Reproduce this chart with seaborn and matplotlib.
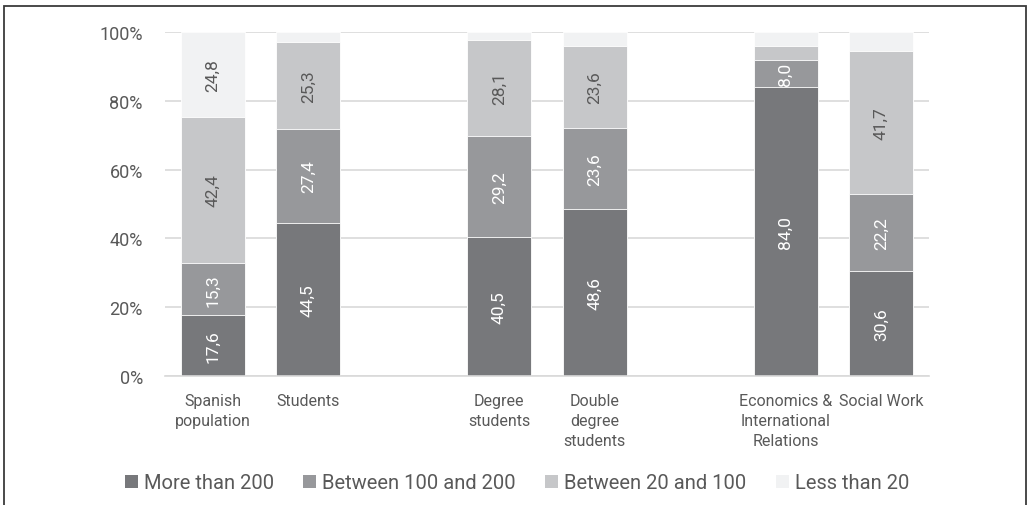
"""
100% stacked bars: share of respondents by size category,
grouped as population / degree type / field of study.
"""

import pandas as pd
import seaborn as sns
import matplotlib.pyplot as plt
from matplotlib.patches import Patch, Rectangle


# ---------------------------
# Data
# ---------------------------

categories = [
    "Spanish population",
    "Students",
    "Degree students",
    "Double degree students",
    "Economics & International Relations",
    "Social Work",
]

tick_labels = [
    "Spanish\npopulation",
    "Students",
    "",
    "Degree\nstudents",
    "Double\ndegree\nstudents",
    "",
    "Economics &\nInternational\nRelations",
    "Social Work",
]

# blank slots separate the three groups
order = [categories[0], categories[1], " ",
         categories[2], categories[3], "  ",
         categories[4], categories[5]]

series_names = ["More than 200", "Between 100 and 200",
                "Between 20 and 100", "Less than 20"]

more_200 = [17.6, 44.5, 40.5, 48.6, 84.0, 30.6]
between_100_200 = [15.3, 27.4, 29.2, 23.6, 8.0, 22.2]
between_20_100 = [42.4, 25.3, 28.1, 23.6, 4.0, 41.7]
less_20 = [24.8, 2.8, 2.2, 4.2, 4.0, 5.5]

series_values = [more_200, between_100_200, between_20_100, less_20]


# ---------------------------
# Style
# ---------------------------

colors = ["#77787b", "#97989b", "#c6c7c9", "#f1f2f3"]
label_colors = ["white", "white", "#595959", "#595959"]
text_color = "#595959"
grid_color = "#d9d9d9"

sns.set_theme(style="white")
plt.rcParams["font.family"] = ["Roboto", "DejaVu Sans"]


# ---------------------------
# Build table (cumulative tops for stacking)
# ---------------------------

df = pd.DataFrame({"category": categories})
running = [0.0] * len(categories)
bottoms = []
for name, vals in zip(series_names, series_values):
    bottoms.append(list(running))
    running = [r + v for r, v in zip(running, vals)]
    df[name] = running


# ---------------------------
# Figure
# ---------------------------

fig = plt.figure(figsize=(10.28, 5.06), dpi=100)
ax = fig.add_axes([0.1605, 0.2549, 0.7432, 0.6799])

# draw tallest cumulative layer first so each lower layer covers it
for name, color in reversed(list(zip(series_names, colors))):
    sns.barplot(
        data=df, x="category", y=name, order=order,
        color=color, saturation=1, width=0.67,
        edgecolor="white", linewidth=0.6, ax=ax, zorder=2,
    )

# value labels
for vals, bots, lc in zip(series_values, bottoms, label_colors):
    for cat, v, b in zip(categories, vals, bots):
        if v < 8:
            continue
        xpos = order.index(cat)
        ax.text(xpos, b + v / 2, f"{v:.1f}".replace(".", ","),
                rotation=90, ha="center", va="center",
                color=lc, fontsize=12.5, zorder=3)


# ---------------------------
# Axes
# ---------------------------

ax.set_xlim(-0.5, 7.5)
ax.set_ylim(0, 100)
ax.set_yticks([0, 20, 40, 60, 80, 100])
ax.set_yticklabels([f"{t}%" for t in [0, 20, 40, 60, 80, 100]])
ax.set_xticks(range(len(order)))
ax.set_xticklabels(tick_labels, va="top", linespacing=1.45)
ax.set_xlabel("")
ax.set_ylabel("")

ax.yaxis.grid(True, color=grid_color, linewidth=1.2, zorder=0)
ax.set_axisbelow(True)

for loc, spine in ax.spines.items():
    if loc == "bottom":
        spine.set_color(grid_color)
        spine.set_linewidth(1.2)
    else:
        spine.set_visible(False)

ax.tick_params(axis="y", length=0, pad=16, labelsize=13, labelcolor=text_color)
ax.tick_params(axis="x", length=0, pad=12, labelsize=11.5, labelcolor=text_color)


# ---------------------------
# Legend
# ---------------------------

handles = [Patch(facecolor=c, edgecolor="none") for c in colors]
fig.legend(
    handles, series_names,
    loc="center", bbox_to_anchor=(0.503, 0.0435), ncol=4,
    frameon=False, fontsize=14.5, labelcolor=text_color,
    handlelength=0.65, handleheight=0.65, handletextpad=0.3,
    columnspacing=1.45,
)

# outer frame
fig.add_artist(Rectangle((4 / 1028, -0.05), 1022 / 1028, 1.036,
                         transform=fig.transFigure, fill=False,
                         edgecolor="#3a3a3a", linewidth=1.3))

fig.savefig("out.png", dpi=100)
